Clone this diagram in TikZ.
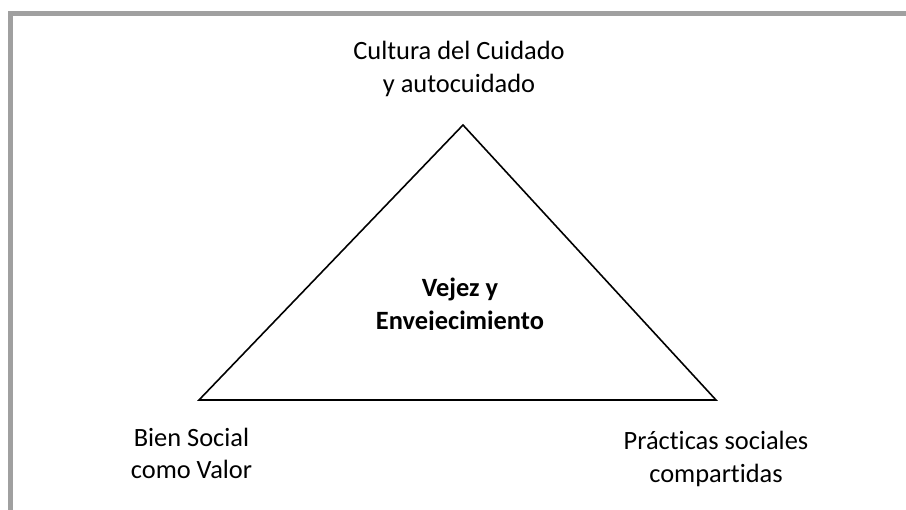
\documentclass[tikz,border=0pt]{standalone}
\definecolor{frame1}{RGB}{160, 160, 160}
\usepackage{fontspec}
\setmainfont{Carlito}[Ligatures={NoCommon}]
\usepackage{tikz}
\usetikzlibrary{positioning, calc}

\tikzset{
  lbl/.style={align=center, inner sep=0pt, font=\fontsize{26.4}{32.5}\selectfont},
  side/.style={draw=black, line width=1.6pt, line join=miter}
}

\begin{document}
\begin{tikzpicture}[x=1pt, y=-1pt]
  \useasboundingbox (0,0) rectangle (906,510);
  % frame
  \coordinate (fbl) at (10,510);
  \coordinate (ftl) at (10,13.5);
  \coordinate (ftr) at (906,13.5);
  \draw[frame1, line width=5pt] (fbl) -- (ftl) -- (ftr);
  % triangle
  \coordinate (top) at (463,125);
  \coordinate (left) at (199,400);
  \coordinate (right) at (716,400);
  \draw[side] (top) -- (left) -- (right) -- cycle;
  % labels
  \node[lbl] (cuidado) at (459,69) {Cultura del Cuidado\\y autocuidado};
  \node[lbl] (bien) at (191.5,453.5) {Bien Social\\como Valor};
  \node[lbl] (practicas) at (716,459) {Prácticas sociales\\compartidas};
  \begin{scope}
    \clip (300,200) rectangle (620,330);
    \node[lbl, font=\fontsize{26.4}{32.5}\selectfont\bfseries] (vejez) at (460,306) {Vejez y\\Envejecimiento};
  \end{scope}
\end{tikzpicture}
\end{document}
